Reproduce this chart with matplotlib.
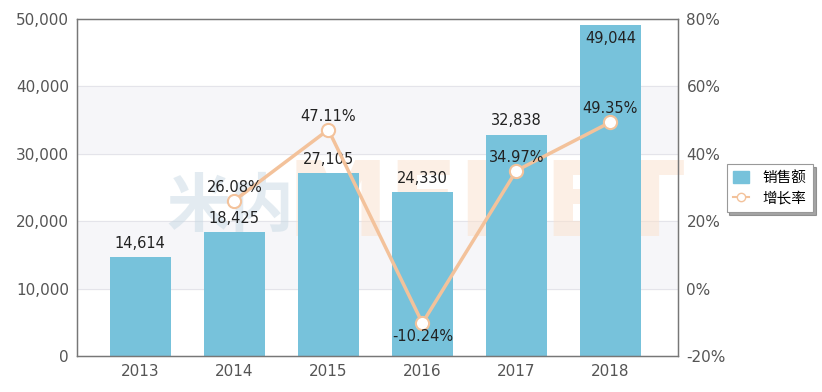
import numpy as np
import matplotlib.pyplot as plt
from matplotlib.patches import Patch
from matplotlib.lines import Line2D

plt.rcParams['font.family'] = ['DejaVu Sans', 'Noto Sans CJK SC']

# data
years = ['2013', '2014', '2015', '2016', '2017', '2018']
sales = [14614, 18425, 27105, 24330, 32838, 49044]
growth = [None, 26.08, 47.11, -10.24, 34.97, 49.35]

bar_color = '#77c2db'
line_color = '#f3c29b'
axis_color = '#777777'
tick_color = '#555555'

fig, ax = plt.subplots(figsize=(8.22, 3.92), dpi=100)
fig.subplots_adjust(left=0.094, right=0.825, top=0.952, bottom=0.092)

x = np.arange(len(years))

# alternating background bands
for lo in (10000, 30000):
    ax.axhspan(lo, lo + 10000, color='#f6f6f9', zorder=0)
for y in range(10000, 50000, 10000):
    ax.axhline(y, color='#e4e4ea', lw=0.8, zorder=0.5)

# faint watermark
ax.text(0.255, 0.44, '米内', transform=ax.transAxes, fontsize=46, fontweight='bold',
        family=['Noto Sans CJK SC'], color='#c8d9e4', alpha=0.5, ha='center', va='center', zorder=0.6)
ax.text(0.68, 0.44, 'MENET', transform=ax.transAxes, fontsize=74, fontweight='bold',
        color='#fbe1cc', alpha=0.5, ha='center', va='center', zorder=0.6)

ax.bar(x, sales, width=0.65, color=bar_color, zorder=1)
for xi, v in zip(x, sales):
    if v > 46000:
        # no room above the tallest bar, label sits inside it
        ax.text(xi, v - 800, f'{v:,}', ha='center', va='top', fontsize=10.5, color='#222222', zorder=5)
    else:
        ax.text(xi, v + 900, f'{v:,}', ha='center', va='bottom', fontsize=10.5, color='#222222', zorder=5)

ax.set_xlim(-0.67, 5.72)
ax.set_ylim(0, 50000)
ax.set_yticks(range(0, 50001, 10000))
ax.set_yticklabels([f'{v:,}' for v in range(0, 50001, 10000)])
ax.set_xticks(x)
ax.set_xticklabels(years)
ax.tick_params(axis='both', length=0, labelsize=11, labelcolor=tick_color, pad=6)
for s in ax.spines.values():
    s.set_color(axis_color)
    s.set_linewidth(0.9)

ax2 = ax.twinx()
gx = [xi for xi, g in zip(x, growth) if g is not None]
gy = [g for g in growth if g is not None]
ax2.plot(gx, gy, color=line_color, lw=2.5, marker='o', markersize=9.5,
         markerfacecolor='white', markeredgecolor=line_color, markeredgewidth=1.5, zorder=3)
for xi, g in zip(gx, gy):
    if g < 0:
        ax2.text(xi, g - 1.8, f'{g:.2f}%', ha='center', va='top', fontsize=10.5, color='#222222')
    else:
        ax2.text(xi, g + 1.8, f'{g:.2f}%', ha='center', va='bottom', fontsize=10.5, color='#222222')
ax2.set_ylim(-20, 80)
ax2.set_yticks(range(-20, 81, 20))
ax2.set_yticklabels([f'{v}%' for v in range(-20, 81, 20)])
ax2.tick_params(axis='y', length=0, labelsize=11, labelcolor=tick_color, pad=6)
for s in ax2.spines.values():
    s.set_color(axis_color)
    s.set_linewidth(0.9)

handles = [Patch(facecolor=bar_color, edgecolor=bar_color),
           Line2D([0], [0], color=line_color, lw=1.5, marker='o', markersize=6,
                  markerfacecolor='white', markeredgecolor=line_color)]
leg = fig.legend(handles, ['销售额', '增长率'], loc='center left', bbox_to_anchor=(0.884, 0.52),
                 frameon=True, fancybox=False, shadow=True,
                 prop={'family': ['Noto Sans CJK SC'], 'size': 10.5},
                 handlelength=1.1, handleheight=0.9, handletextpad=0.9, borderpad=0.45,
                 labelspacing=0.45, borderaxespad=0)
leg.get_frame().set_edgecolor('#999999')
leg.get_frame().set_linewidth(0.8)

fig.savefig('out.png', dpi=100)
